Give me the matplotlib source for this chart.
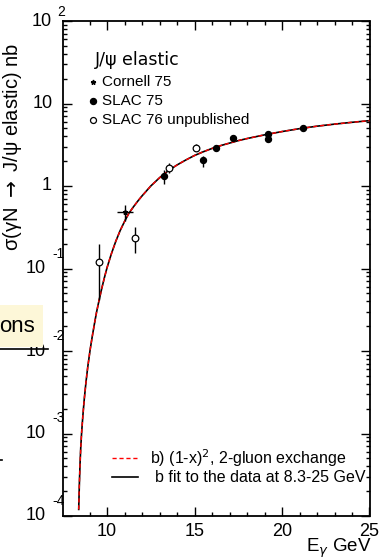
import matplotlib
matplotlib.use("Agg")
import matplotlib.pyplot as plt
import matplotlib.transforms as mtransforms
from matplotlib.lines import Line2D
from matplotlib.patches import Rectangle
import numpy as np

plt.rcParams['font.family'] = ['Liberation Sans', 'DejaVu Sans']

# data
slac76_e = [9.56, 11.58, 13.54, 15.07]
slac76_s = [0.119, 0.236, 1.67, 2.92]
slac76_lo = [0.041, 0.156, 1.45, 2.65]
slac76_hi = [0.198, 0.316, 1.91, 3.20]

slac75_e = [13.25, 15.5, 16.23, 17.21, 19.21, 19.21, 21.21]
slac75_s = [1.32, 2.05, 2.87, 3.78, 4.24, 3.71, 5.09]
slac75_lo = [1.05, 1.71, 2.65, 3.60, 4.00, 3.50, 4.90]
slac75_hi = [1.55, 2.30, 3.10, 3.95, 4.45, 3.90, 5.30]

cornell_e = [11.03]
cornell_s = [0.489]
cornell_de = [0.48]
cornell_lo = [0.38]
cornell_hi = [0.59]

# fit curve, read as log10(sigma) at each energy
fit_e = [8.38, 8.42, 8.46, 8.50, 8.55, 8.62, 8.70, 8.80, 8.90, 9.03,
         9.15, 9.28, 9.40, 9.54, 9.70, 9.85, 10.0, 10.25, 10.5, 10.75,
         11.0, 11.25, 11.5, 11.75, 12.0, 12.5, 13.0, 13.5, 14.0, 14.5,
         15.0, 15.5, 16.0, 16.5, 17.0, 17.5, 18.0, 19.0, 20.0, 21.0,
         22.0, 23.0, 24.0, 25.0]
fit_log_s = [-3.92, -3.60, -3.35, -3.16, -2.98, -2.78, -2.58, -2.37, -2.19, -1.99,
             -1.83, -1.67, -1.53, -1.39, -1.24, -1.11, -0.99, -0.82, -0.67, -0.54,
             -0.43, -0.33, -0.255, -0.185, -0.12, 0.0, 0.10, 0.185, 0.255, 0.315,
             0.37, 0.415, 0.455, 0.49, 0.52, 0.55, 0.575, 0.62, 0.66, 0.695,
             0.725, 0.75, 0.772, 0.792]

ytick_exp = [-4, -3, -2, -1, 0, 1, 2]
xtick_vals = [10, 15, 20, 25]

fig = plt.figure(figsize=(3.8, 5.58), dpi=100)
W, H = 380.0, 558.0
ax = fig.add_axes([63.3 / W, 42 / H, 306.2 / W, 495 / H])

fit_s = 10.0 ** np.array(fit_log_s)
ax.plot(fit_e, fit_s, color='black', lw=1.2, zorder=3)
ax.plot(fit_e, fit_s, color='red', lw=1.0, dashes=(3, 2), zorder=4)

def asym(v, lo, hi):
    v, lo, hi = np.array(v), np.array(lo), np.array(hi)
    return [v - lo, hi - v]

ax.errorbar(slac75_e, slac75_s, yerr=asym(slac75_s, slac75_lo, slac75_hi),
            fmt='o', ms=4.3, color='black', ecolor='black', elinewidth=1, capsize=0, zorder=5)
ax.errorbar(slac76_e, slac76_s, yerr=asym(slac76_s, slac76_lo, slac76_hi),
            fmt='o', ms=4.8, mfc='white', mec='black', mew=0.9, ecolor='black',
            elinewidth=1, capsize=0, zorder=5)
ax.errorbar(cornell_e, cornell_s, xerr=cornell_de, yerr=asym(cornell_s, cornell_lo, cornell_hi),
            fmt='*', ms=3.5, color='black', ecolor='black', elinewidth=1, capsize=0, zorder=5)

ax.set_yscale('log')
ax.set_xlim(7.5, 25)
ax.set_ylim(1e-4, 1e2)
ax.set_xticks(xtick_vals)
ax.set_xticks([9, 11, 12, 13, 14, 16, 17, 18, 19, 21, 22, 23, 24], minor=True)
ax.set_yticks([10.0 ** k for k in ytick_exp])
ax.set_yticks([m * 10.0 ** k for k in ytick_exp[:-1] for m in range(2, 10)], minor=True)
ax.set_xticklabels([str(v) for v in xtick_vals])
ax.set_yticklabels([])
ax.yaxis.set_minor_formatter(matplotlib.ticker.NullFormatter())
ax.tick_params(which='both', direction='in', top=True, right=True, width=1.0, color='black')
ax.tick_params(which='major', length=6.2)
ax.tick_params(which='minor', length=3.0)
ax.tick_params(axis='x', labelsize=13, pad=5)
for s in ax.spines.values():
    s.set_linewidth(1.3)

# ROOT-like y tick labels
tr = mtransforms.blended_transform_factory(ax.transAxes, ax.transData)
px = 1.0 / 306.2
for k in ytick_exp:
    y = 10.0 ** k
    if k == 0:
        ax.text(-12 * px, y, "1", transform=tr, ha='right', va='center', fontsize=13)
    elif k == 1:
        ax.text(-11 * px, y, "10", transform=tr, ha='right', va='center', fontsize=13)
    elif k == 2:
        ax.text(-12 * px, y, "10", transform=tr, ha='right', va='center', fontsize=13)
        ax.text(-6 * px, y * 10 ** (9 / 82.5), "2", transform=tr, ha='left', va='center', fontsize=10)
    else:
        ax.text(-18 * px, y, "10", transform=tr, ha='right', va='center', fontsize=13)
        ax.text(-11 * px, y * 10 ** (15 / 82.5), str(k), transform=tr, ha='left', va='center', fontsize=10)

ax.text(-50.5 * px, 0.746, "σ(γN $\\rightarrow$ J/ψ elastic) nb", transform=ax.transAxes,
        rotation=90, ha='center', va='center', fontsize=14.5)
fig.text(372 / W, 1 - 548 / H, "E$_\\gamma$ GeV", ha='right', va='center', fontsize=13.5)

# legend, top
ax.text(0.1035, 0.921, "J/ψ elastic", transform=ax.transAxes, ha='left', va='center',
        fontsize=12.5, family='DejaVu Sans')
leg_y = [0.877, 0.839, 0.800]
leg_lbl = ["Cornell 75", "SLAC 75", "SLAC 76 unpublished"]
ax.plot([0.098], [leg_y[0]], '*', ms=3.5, color='black', transform=ax.transAxes)
ax.plot([0.098], [leg_y[1]], 'o', ms=4.3, color='black', transform=ax.transAxes)
ax.plot([0.098], [leg_y[2]], 'o', ms=4.3, mfc='white', mec='black', mew=0.9, transform=ax.transAxes)
for yy, lbl in zip(leg_y, leg_lbl):
    ax.text(0.1254, yy, lbl, transform=ax.transAxes, ha='left', va='center', fontsize=11)

# legend, bottom
ax.plot([0.158, 0.245], [0.1166, 0.1166], color='red', lw=1.0, dashes=(3, 2), transform=ax.transAxes)
ax.plot([0.158, 0.245], [0.078, 0.078], color='black', lw=1.2, transform=ax.transAxes)
ax.text(0.283, 0.1166, "b) (1-x)$^2$, 2-gluon exchange", transform=ax.transAxes,
        ha='left', va='center', fontsize=11.5)
ax.text(0.298, 0.078, "b fit to the data at 8.3-25 GeV", transform=ax.transAxes,
        ha='left', va='center', fontsize=11.5)

# slide overlay fragments at the left edge
fig.patches.append(Rectangle((0, 1 - 347 / H), 43 / W, 42 / H, transform=fig.transFigure,
                             facecolor='#fdf7d8', edgecolor='none', zorder=0))
fig.text(35 / W, 1 - 327 / H, "ons", ha='right', va='center', fontsize=16)
fig.lines.append(Line2D([0, 48 / W], [1 - 349.3 / H, 1 - 349.3 / H], transform=fig.transFigure,
                        color='black', lw=1.2))
fig.lines.append(Line2D([0, 2 / W], [1 - 460 / H, 1 - 460 / H], transform=fig.transFigure,
                        color='black', lw=1.2))

fig.savefig("out.png", dpi=100)
